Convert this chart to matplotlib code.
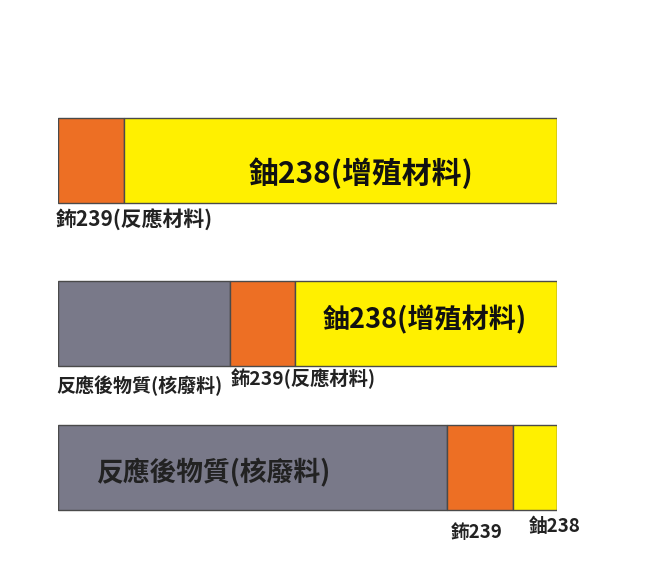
import matplotlib.pyplot as plt

plt.rcParams['font.family'] = ['Noto Sans CJK TC', 'DejaVu Sans']

# share of each bar (percent)
waste = [0, 34.5, 78]
pu239 = [13.2, 13, 13.2]
u238 = [86.8, 52.5, 8.8]

inner_labels = ["鈾238(增殖材料)", "鈾238(增殖材料)", "反應後物質(核廢料)"]

C_WASTE = "#797989"
C_PU = "#ED6F24"
C_U = "#FFF000"

W, H = 656, 575
fig = plt.figure(figsize=(W / 100, H / 100), dpi=100)
# axes spans the bar area horizontally, whole figure vertically (y in pixels)
ax = fig.add_axes([58 / W, 0, 499 / W, 1])
ax.set_xlim(0, 100)
ax.set_ylim(H, 0)
ax.axis("off")

row_y = [160.5, 323.5, 467]
bar_h = 85

def px(x):
    return (x - 58) / 499 * 100

left = [0, 0, 0]
for vals, col in [(waste, C_WASTE), (pu239, C_PU), (u238, C_U)]:
    ax.barh(row_y, vals, left=left, height=bar_h, color=col,
            edgecolor="#4a4a4a", linewidth=1.0)
    left = [l + v for l, v in zip(left, vals)]

# inner labels
ax.text(px(361), 173, inner_labels[0], ha="center", va="center",
        fontsize=21.5, fontweight="bold", color="#111111")
ax.text(px(425), 320, inner_labels[1], ha="center", va="center",
        fontsize=19.5, fontweight="bold", color="#111111")
ax.text(px(213), 473, inner_labels[2], ha="center", va="center",
        fontsize=19.3, fontweight="bold", color="#222222")

# labels under the bars
ax.text(px(56), 220, "鈽239(反應材料)", ha="left", va="center",
        fontsize=15, fontweight="bold", color="#222222", clip_on=False)
ax.text(px(56), 386, "反應後物質(核廢料)", ha="left", va="center",
        fontsize=13.7, fontweight="bold", color="#222222", clip_on=False)
ax.text(px(231), 379, "鈽239(反應材料)", ha="left", va="center",
        fontsize=13.9, fontweight="bold", color="#222222", clip_on=False)
ax.text(px(451), 533, "鈽239", ha="left", va="center",
        fontsize=13.5, fontweight="bold", color="#222222", clip_on=False)
ax.text(px(529), 526, "鈾238", ha="left", va="center",
        fontsize=13.5, fontweight="bold", color="#222222", clip_on=False)

fig.savefig("out.png", dpi=100)
